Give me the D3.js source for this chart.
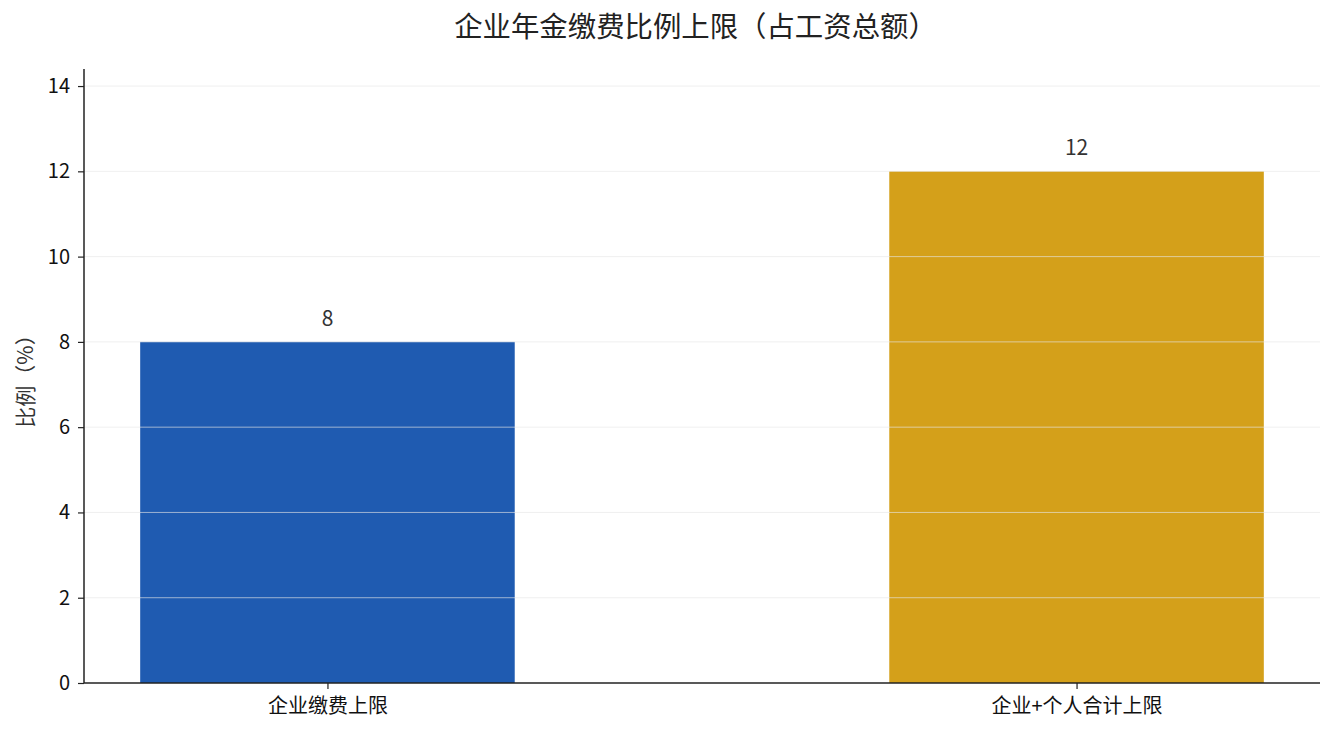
<!DOCTYPE html>
<html lang="zh">
<head>
<meta charset="UTF-8">
<script src="https://d3js.org/d3.v7.min.js"></script>
<style>
  body { margin: 0; background: #fff; }
  text { font-family: "Noto Sans CJK SC", "Noto Sans", sans-serif; }
</style>
</head>
<body>
<div id="canvas"></div>
<script>
const categories = ["企业缴费上限", "企业+个人合计上限"];
const values = [8, 12];
const colors = ["#1f5bb1", "#d4a01a"];
const yTicks = [0, 2, 4, 6, 8, 10, 12, 14];

const W = 1335, H = 735;
const margin = {top: 69, right: 15, bottom: 52, left: 84};
const gw = W - margin.left - margin.right;
const gh = H - margin.top - margin.bottom;

const svg = d3.select("#canvas").append("svg").attr("width", W).attr("height", H);
const g = svg.append("g").attr("transform", `translate(${margin.left},${margin.top})`);

const x = d3.scaleLinear().domain([-0.325, 1.325]).range([0, gw]);
const y = d3.scaleLinear().domain([0, 14.4]).range([gh, 0]);
const barW = x(0.5) - x(0);

g.selectAll(".bar").data(values).enter().append("rect")
  .attr("x", (d, i) => x(i - 0.25))
  .attr("y", d => y(d))
  .attr("width", barW)
  .attr("height", d => y(0) - y(d))
  .attr("fill", (d, i) => colors[i]);

// grid on top of bars
g.append("g").selectAll("line").data(yTicks.slice(1)).enter().append("line")
  .attr("x1", 0).attr("x2", gw)
  .attr("y1", d => y(d)).attr("y2", d => y(d))
  .attr("stroke", "#e6e6e6").attr("stroke-opacity", 0.8).attr("stroke-width", 0.8);

g.selectAll(".val").data(values).enter().append("text")
  .attr("x", (d, i) => x(i))
  .attr("y", d => y(d) - 16)
  .attr("text-anchor", "middle")
  .attr("fill", "#333")
  .style("font-size", "21px")
  .text(d => d);

const yAxis = g.append("g").call(d3.axisLeft(y).tickValues(yTicks).tickSize(6).tickPadding(8));
const xAxis = g.append("g").attr("transform", `translate(0,${gh})`)
  .call(d3.axisBottom(x).tickValues([0, 1]).tickFormat((d, i) => categories[i]).tickSize(6).tickPadding(10));

[yAxis, xAxis].forEach(a => {
  a.select(".domain").attr("stroke", "#222").attr("stroke-width", 1.5);
  a.selectAll(".tick line").attr("stroke", "#222").attr("stroke-width", 1.2);
  a.selectAll(".tick text").attr("fill", "#111").style("font-size", "20px")
    .style("font-family", "'Noto Sans CJK SC', sans-serif");
});
yAxis.select(".domain").attr("d", `M0,${gh}V0`);
xAxis.select(".domain").attr("d", `M0,0H${gw}`);

svg.append("text")
  .attr("transform", `translate(33,${margin.top + y(7.2)}) rotate(-90)`)
  .attr("text-anchor", "middle")
  .attr("fill", "#333")
  .style("font-size", "21px")
  .text("比例（%）");

svg.append("text")
  .attr("x", W / 2 + 28).attr("y", 37)
  .attr("text-anchor", "middle")
  .attr("fill", "#222")
  .style("font-size", "28.4px")
  .text("企业年金缴费比例上限（占工资总额）");
</script>
</body>
</html>
